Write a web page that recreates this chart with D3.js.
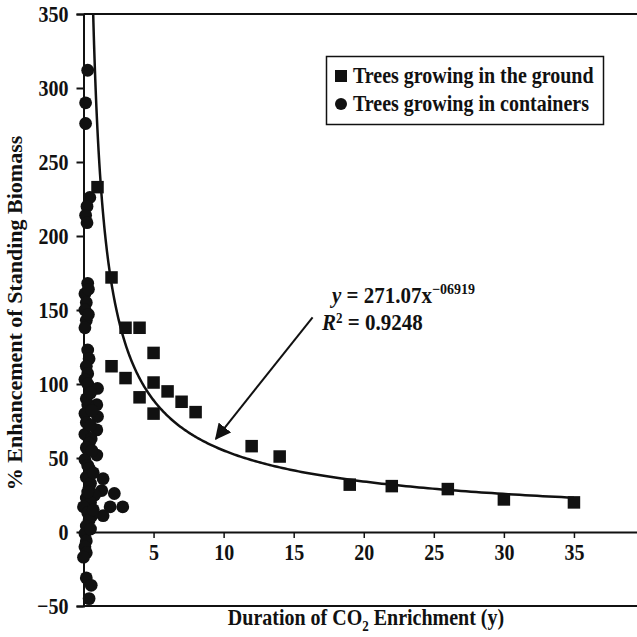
<!DOCTYPE html>
<html>
<head>
<meta charset="utf-8">
<script src="https://cdn.jsdelivr.net/npm/d3@7"></script>
<style>
  body { margin: 0; background: #fff; }
  svg { display: block; }
  text { font-family: "Liberation Serif", "Times New Roman", serif; font-weight: bold; fill: #111; }
</style>
</head>
<body>
<svg id="chart" width="637" height="637"></svg>
<script>
// trees growing in the ground (x = years, y = % enhancement)
var groundX = [1, 2, 2, 3, 3, 4, 4, 5, 5, 5, 6, 7, 8, 12, 14, 19, 22, 26, 30, 35];
var groundY = [233, 172, 112, 138, 104, 138, 91, 121, 101, 80, 95, 88, 81, 58, 51, 32, 31, 29, 22, 20];

// trees growing in containers
var containerX = [0.3, 0.15, 0.15, 0.45, 0.25, 0.15, 0.25, 0.3, 0.1, 0.2, 0.1, 0.2, 0.1,
  0.3, 0.4, 0.2, 0.3, 0.1, 0.3, 1.0, 0.95, 0.3, 0.2, 0.1, 1.0, 0.2, 0.95, 0.1, 0.55, 0.4,
  0.2, 0.95, 0.1, 0.3, 0.4, 0.2, 1.4, 0.5, 0.4, 1.3, 2.2, 0.8, 0.2, 0.5, 1.9, 2.8, 0.0,
  0.3, 1.4, 0.6, 0.4, 0.2, 0.1, 0.2, 0.1, 0.2, 0.0, 0.2, 0.55, 0.4,
  0.5, 0.6, 0.5, 0.6, 0.7, 0.3, 0.7, 0.5, 0.35, 0.35];
var containerY = [312, 290, 276, 226, 220, 214, 209, 168, 161, 155, 150, 143, 138,
  123, 117, 112, 107, 103, 100, 97, 86, 86, 90, 80, 78, 74, 69, 66, 63, 60,
  57, 52, 49, 45, 43, 37, 36, 33, 30, 28, 26, 25, 23, 20, 17, 17, 17,
  13, 11, 11, 8, 4, -1, -6, -10, -14, -17, -31, -36, -45,
  94, 82, 72, 55, 40, 27, 15, 2, 164, 147];

var xTicks = [5, 10, 15, 20, 25, 30, 35];
var yTicks = [-50, 0, 50, 100, 150, 200, 250, 300, 350];
var legendLabels = ["Trees growing in the ground", "Trees growing in containers"];

// power fit shown on the chart
var fitA = 271.07, fitB = -0.6919, fitFrom = 0.69, fitTo = 35;

var svg = d3.select("#chart");
var x = d3.scaleLinear().domain([0, 39.5]).range([83.5, 637]);
var y = d3.scaleLinear().domain([-50, 350]).range([606, 14]);

svg.append("rect").attr("width", 637).attr("height", 637).attr("fill", "#fff");

// top and bottom frame lines
svg.append("line").attr("x1", x(0)).attr("x2", 637).attr("y1", y(350)).attr("y2", y(350))
  .attr("stroke", "#111").attr("stroke-width", 2);
svg.append("line").attr("x1", x(0)).attr("x2", 637).attr("y1", y(-50)).attr("y2", y(-50))
  .attr("stroke", "#111").attr("stroke-width", 2);

// y axis
var yAxis = svg.append("g")
  .attr("transform", "translate(" + x(0) + ",0)")
  .call(d3.axisLeft(y).tickValues(yTicks).tickSize(7).tickPadding(8).tickFormat(function(d) { return d < 0 ? "\u221250" : d; }));
yAxis.select(".domain").attr("stroke", "#111").attr("stroke-width", 2);
yAxis.selectAll(".tick line").attr("stroke", "#111").attr("stroke-width", 2);
yAxis.selectAll(".tick text").attr("font-size", 20).attr("font-family", null).attr("fill", "#111")
  .attr("transform", "scale(1,1.15)");

// x axis sits on zero
var xAxis = svg.append("g")
  .attr("transform", "translate(0," + y(0) + ")")
  .call(d3.axisBottom(x).tickValues(xTicks).tickSize(6).tickPadding(4).tickSizeOuter(0));
xAxis.select(".domain").attr("stroke", "#111").attr("stroke-width", 2);
xAxis.selectAll(".tick line").attr("stroke", "#111").attr("stroke-width", 1.5);
xAxis.selectAll(".tick text").attr("font-size", 20).attr("font-family", null).attr("fill", "#111")
  .attr("transform", "scale(1,1.15)");

// fitted curve
var fitXs = d3.range(0, 301).map(function(i) { return fitFrom * Math.pow(fitTo / fitFrom, i / 300); });
var line = d3.line()
  .x(function(d) { return x(d); })
  .y(function(d) { return y(fitA * Math.pow(d, fitB)); });
svg.append("path")
  .attr("d", line(fitXs))
  .attr("fill", "none").attr("stroke", "#111").attr("stroke-width", 2.5);

// container points
svg.append("g").selectAll("circle")
  .data(containerX.map(function(d, i) { return [d, containerY[i]]; }))
  .enter().append("circle")
    .attr("cx", function(d) { return x(d[0]); })
    .attr("cy", function(d) { return y(d[1]); })
    .attr("r", 6.4)
    .attr("fill", "#111");

// ground points
var sq = 12.5;
svg.append("g").selectAll("rect")
  .data(groundX.map(function(d, i) { return [d, groundY[i]]; }))
  .enter().append("rect")
    .attr("x", function(d) { return x(d[0]) - sq / 2; })
    .attr("y", function(d) { return y(d[1]) - sq / 2; })
    .attr("width", sq).attr("height", sq)
    .attr("fill", "#111");

// legend
var lg = svg.append("g");
lg.append("rect").attr("x", 326.5).attr("y", 56.5).attr("width", 277).attr("height", 68)
  .attr("fill", "#fff").attr("stroke", "#111").attr("stroke-width", 1.5);
lg.append("rect").attr("x", 335).attr("y", 70).attr("width", 12).attr("height", 12).attr("fill", "#111");
lg.append("circle").attr("cx", 341).attr("cy", 104).attr("r", 6).attr("fill", "#111");
lg.selectAll("text.lab").data(legendLabels).enter().append("text")
  .attr("class", "lab")
  .attr("transform", function(d, i) { return "translate(353," + (83 + i * 28) + ") scale(1,1.12)"; })
  .attr("font-size", 20)
  .text(function(d) { return d; });

// annotation
var eq = svg.append("text").attr("transform", "translate(332,303) scale(1,1.05)").attr("font-size", 21);
eq.append("tspan").attr("font-style", "italic").text("y");
eq.append("tspan").text(" = 271.07x");
eq.append("tspan").attr("font-size", 14).attr("dy", -9).text("\u221206919");
var r2 = svg.append("text").attr("transform", "translate(322,330) scale(1,1.05)").attr("font-size", 21);
r2.append("tspan").attr("font-style", "italic").text("R");
r2.append("tspan").attr("font-size", 13).attr("dy", -7).text("2");
r2.append("tspan").attr("dy", 7).text(" = 0.9248");

svg.append("defs").append("marker")
  .attr("id", "arrow").attr("viewBox", "0 0 10 10").attr("refX", 9).attr("refY", 5)
  .attr("markerWidth", 8).attr("markerHeight", 8).attr("orient", "auto")
  .append("path").attr("d", "M0,0 L10,5 L0,10 z").attr("fill", "#111");
svg.append("line")
  .attr("x1", x(16.35)).attr("y1", y(145))
  .attr("x2", x(9.45)).attr("y2", y(63))
  .attr("stroke", "#111").attr("stroke-width", 2)
  .attr("marker-end", "url(#arrow)");

// axis titles
svg.append("text")
  .attr("transform", "translate(22,313) rotate(-90)")
  .attr("text-anchor", "middle").attr("font-size", 22)
  .text("% Enhancement of Standing Biomass");
var xt = svg.append("text").attr("transform", "translate(366,625) scale(1,1.12)").attr("text-anchor", "middle").attr("font-size", 20);
xt.append("tspan").text("Duration of CO");
xt.append("tspan").attr("font-size", 13).attr("dy", 5).text("2");
xt.append("tspan").attr("dy", -5).text(" Enrichment (y)");
</script>
</body>
</html>
